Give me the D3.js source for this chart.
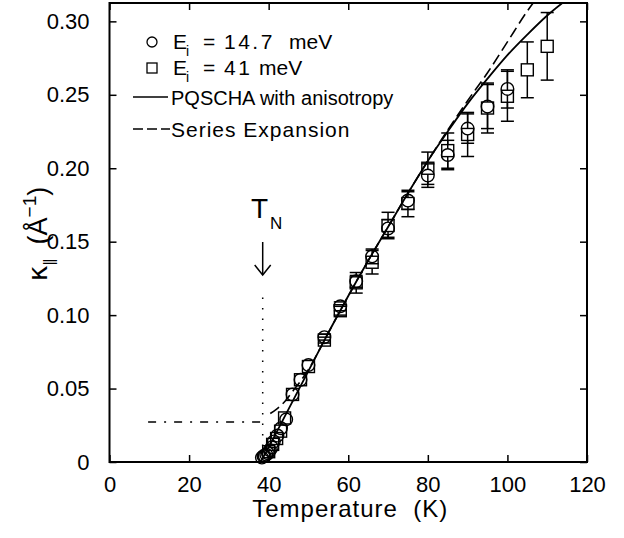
<!DOCTYPE html>
<html>
<head>
<meta charset="utf-8">
<script src="https://cdn.jsdelivr.net/npm/d3@7"></script>
<style>
  body { margin: 0; background: #fff; }
  text { font-family: "Liberation Sans", Arial, sans-serif; fill: #000; }
</style>
</head>
<body>
<script>
// Size
var w = 624;
var h = 538;

// Data: Ei = 14.7 meV (circles)
var tempLow = [38.3, 38.7, 39.0, 39.4, 39.8, 40.3, 40.8, 41.3, 42.2, 43.1, 44.4, 46, 48, 50, 54, 58, 62, 66, 70, 75, 80, 85, 90, 95, 100];
var kappaLow = [0.003, 0.004, 0.004, 0.005, 0.006, 0.008, 0.010, 0.014, 0.018, 0.023, 0.029, 0.046, 0.056, 0.066, 0.085, 0.106, 0.123, 0.140, 0.159, 0.178, 0.195, 0.209, 0.227, 0.242, 0.254];
var errLow = [0, 0, 0, 0, 0, 0, 0, 0, 0, 0, 0, 0, 0, 0, 0.002, 0.003, 0.004, 0.005, 0.006, 0.006, 0.008, 0.010, 0.010, 0.015, 0.013];

// Data: Ei = 41 meV (squares)
var tempHigh = [40.0, 41.0, 42.0, 43.0, 44.0, 46, 48, 50, 54, 58, 62, 66, 70, 75, 80, 85, 90, 95, 100, 105, 110];
var kappaHigh = [0.007, 0.012, 0.016, 0.021, 0.030, 0.046, 0.056, 0.065, 0.083, 0.103, 0.122, 0.136, 0.161, 0.176, 0.200, 0.212, 0.223, 0.241, 0.249, 0.267, 0.283];
var errHigh = [0, 0, 0, 0, 0, 0, 0, 0, 0.002, 0.003, 0.007, 0.008, 0.009, 0.009, 0.011, 0.012, 0.015, 0.017, 0.017, 0.019, 0.023];

// PQSCHA with anisotropy (solid)
var tempPqscha = [38, 40, 45, 50, 55, 60, 65, 70, 75, 80, 85, 90, 95, 100, 105, 110, 115];
var kappaPqscha = [0.000, 0.010, 0.036, 0.062, 0.088, 0.113, 0.137, 0.160, 0.183, 0.205, 0.225, 0.244, 0.261, 0.277, 0.291, 0.304, 0.315];

// Series expansion (dashed)
var tempSeries = [40.4, 42, 44, 46, 48, 50, 55, 60, 65, 70, 75, 80, 85, 90, 95, 100, 105, 108];
var kappaSeries = [0.033, 0.036, 0.041, 0.048, 0.055, 0.063, 0.088, 0.113, 0.137, 0.160, 0.183, 0.205, 0.226, 0.246, 0.265, 0.286, 0.307, 0.318];

// Marker lines: T_N and the dash-dot level
var tNeel = 38.5;
var tNeelTop = 0.112;
var kappaLevel = 0.0273;
var levelStart = 9.7;

// Ticks
var xTicks = [0, 20, 40, 60, 80, 100, 120];
var yTicks = [0, 0.05, 0.10, 0.15, 0.20, 0.25, 0.30];

var x = d3.scaleLinear().domain([0, 120]).range([109.5, 587]);
var y = d3.scaleLinear().domain([0, 0.3125]).range([462, 3]);

var svg = d3.select("body")
            .append("svg")
            .attr("width", w)
            .attr("height", h);

svg.append("defs").append("clipPath")
   .attr("id", "plot")
   .append("rect")
   .attr("x", x(0)).attr("y", y(0.3125))
   .attr("width", x(120) - x(0)).attr("height", y(0) - y(0.3125));

// Axes with inward ticks on all four sides
var tickLen = 7;
svg.append("g").attr("transform", "translate(0," + y(0) + ")")
   .call(d3.axisBottom(x).tickValues(xTicks).tickSizeInner(-tickLen).tickSizeOuter(0).tickPadding(14).tickFormat(d3.format("d")))
   .call(function(g) { g.select(".domain").remove(); })
   .selectAll("text").attr("font-size", "22px").attr("font-family", "Liberation Sans, Arial, sans-serif").attr("fill", "#000");
svg.append("g").attr("transform", "translate(0," + y(0.3125) + ")")
   .call(d3.axisTop(x).tickValues(xTicks).tickSizeInner(-tickLen).tickSizeOuter(0).tickFormat(""))
   .call(function(g) { g.select(".domain").remove(); });
svg.append("g").attr("transform", "translate(" + x(0) + ",0)")
   .call(d3.axisLeft(y).tickValues(yTicks).tickSizeInner(-tickLen).tickSizeOuter(0).tickPadding(20)
           .tickFormat(function(d) { return d === 0 ? "0" : d3.format(".2f")(d); }))
   .call(function(g) { g.select(".domain").remove(); })
   .selectAll("text").attr("font-size", "22px").attr("font-family", "Liberation Sans, Arial, sans-serif").attr("fill", "#000");
svg.append("g").attr("transform", "translate(" + x(120) + ",0)")
   .call(d3.axisRight(y).tickValues(yTicks).tickSizeInner(-tickLen).tickSizeOuter(0).tickFormat(""))
   .call(function(g) { g.select(".domain").remove(); });
svg.selectAll(".tick line").attr("stroke", "#000").attr("stroke-width", 1.5);

svg.append("rect")
   .attr("x", x(0)).attr("y", y(0.3125))
   .attr("width", x(120) - x(0)).attr("height", y(0) - y(0.3125))
   .attr("fill", "none").attr("stroke", "#000").attr("stroke-width", 2);

// Axis titles
svg.append("text")
   .attr("x", (x(0) + x(120)) / 2 + 2).attr("y", 517)
   .attr("text-anchor", "middle").attr("font-size", "24px")
   .attr("letter-spacing", "1px")
   .attr("xml:space", "preserve")
   .text("Temperature  (K)");

var ylab = svg.append("text")
   .attr("transform", "translate(47,234) rotate(-90)")
   .attr("text-anchor", "middle").attr("font-size", "27px")
   .attr("xml:space", "preserve");
ylab.append("tspan").attr("font-family", "DejaVu Sans, sans-serif").text("κ");
ylab.append("tspan").attr("font-size", "15px").attr("dy", 7).attr("letter-spacing", "-1px").text("||");
ylab.append("tspan").attr("dy", -7).text("  (Å");
ylab.append("tspan").attr("font-size", "19px").attr("dy", -11).text("−1");
ylab.append("tspan").attr("dy", 11).text(")");

// Dash-dot level and dotted T_N line
svg.append("line")
   .attr("x1", x(levelStart)).attr("x2", x(tNeel))
   .attr("y1", y(kappaLevel)).attr("y2", y(kappaLevel))
   .attr("stroke", "#000").attr("stroke-width", 1.5)
   .attr("stroke-dasharray", "8,8,2,8");
svg.append("line")
   .attr("x1", x(tNeel)).attr("x2", x(tNeel))
   .attr("y1", y(tNeelTop)).attr("y2", y(0.004))
   .attr("stroke", "#000").attr("stroke-width", 1.5)
   .attr("stroke-dasharray", "1.5,9");

// T_N arrow and label
var ax = x(tNeel);
svg.append("line").attr("x1", ax).attr("x2", ax).attr("y1", 242).attr("y2", 275)
   .attr("stroke", "#000").attr("stroke-width", 1.5);
svg.append("path").attr("d", "M" + (ax - 8) + ",265L" + ax + ",275L" + (ax + 8) + ",265")
   .attr("fill", "none").attr("stroke", "#000").attr("stroke-width", 1.5);
svg.append("text").attr("x", 251).attr("y", 218).attr("font-size", "28px").text("T");
svg.append("text").attr("x", 270).attr("y", 229).attr("font-size", "17px").text("N");

// Error bars (drawn outside the symbol only)
var half = 6;
function errorBars(ts, vs, es) {
  var g = svg.append("g").attr("stroke", "#000").attr("stroke-width", 1.5);
  ts.forEach(function(t, i) {
    if (!es[i]) return;
    var cx = x(t), cy = y(vs[i]), top = y(vs[i] + es[i]), bot = y(vs[i] - es[i]);
    if (cy - top > half) {
      g.append("line").attr("x1", cx).attr("x2", cx).attr("y1", top).attr("y2", cy - half);
    }
    if (bot - cy > half) {
      g.append("line").attr("x1", cx).attr("x2", cx).attr("y1", cy + half).attr("y2", bot);
    }
    g.append("line").attr("x1", cx - 6.5).attr("x2", cx + 6.5).attr("y1", top).attr("y2", top);
    g.append("line").attr("x1", cx - 6.5).attr("x2", cx + 6.5).attr("y1", bot).attr("y2", bot);
  });
}
errorBars(tempHigh, kappaHigh, errHigh);
errorBars(tempLow, kappaLow, errLow);

// Symbols
svg.selectAll("rect.sq")
   .data(d3.range(tempHigh.length))
   .enter()
   .append("rect")
   .attr("class", "sq")
   .attr("x", function(i) { return x(tempHigh[i]) - 6; })
   .attr("y", function(i) { return y(kappaHigh[i]) - 6; })
   .attr("width", 12).attr("height", 12)
   .attr("fill", "none").attr("stroke", "#000").attr("stroke-width", 1.4);

svg.selectAll("circle.ci")
   .data(d3.range(tempLow.length))
   .enter()
   .append("circle")
   .attr("class", "ci")
   .attr("cx", function(i) { return x(tempLow[i]); })
   .attr("cy", function(i) { return y(kappaLow[i]); })
   .attr("r", 6.3)
   .attr("fill", "none").attr("stroke", "#000").attr("stroke-width", 1.4);

// Curves
var line = d3.line()
   .x(function(d) { return x(d[0]); })
   .y(function(d) { return y(d[1]); })
   .curve(d3.curveMonotoneX);

svg.append("path")
   .attr("clip-path", "url(#plot)")
   .attr("d", line(d3.zip(tempPqscha, kappaPqscha)))
   .attr("fill", "none").attr("stroke", "#000").attr("stroke-width", 1.8);

svg.append("path")
   .attr("clip-path", "url(#plot)")
   .attr("d", line(d3.zip(tempSeries, kappaSeries)))
   .attr("fill", "none").attr("stroke", "#000").attr("stroke-width", 1.6)
   .attr("stroke-dasharray", "11,5");

// Legend
svg.append("circle").attr("cx", 152).attr("cy", 42).attr("r", 5)
   .attr("fill", "none").attr("stroke", "#000").attr("stroke-width", 1.3);
svg.append("rect").attr("x", 147).attr("y", 63).attr("width", 10).attr("height", 10)
   .attr("fill", "none").attr("stroke", "#000").attr("stroke-width", 1.3);
svg.append("line").attr("x1", 133).attr("x2", 168).attr("y1", 97).attr("y2", 97)
   .attr("stroke", "#000").attr("stroke-width", 1.5);
svg.append("line").attr("x1", 133).attr("x2", 170).attr("y1", 129).attr("y2", 129)
   .attr("stroke", "#000").attr("stroke-width", 1.5).attr("stroke-dasharray", "10,4");

var legendRows = [
  { y: 49, parts: [["E", 173], ["=", 203], ["14.7", 224], ["meV", 289]] },
  { y: 75, parts: [["E", 173], ["=", 203], ["41", 224], ["meV", 259]] }
];
legendRows.forEach(function(r) {
  r.parts.forEach(function(p) {
    svg.append("text").attr("x", p[1]).attr("y", r.y).attr("font-size", "21px")
       .attr("letter-spacing", /^\d/.test(p[0]) ? "2.5px" : "0px").text(p[0]);
  });
  svg.append("text").attr("x", 186).attr("y", r.y + 7).attr("font-size", "14px").text("i");
});
svg.append("text").attr("x", 171).attr("y", 105).attr("font-size", "20px")
   .text("PQSCHA with anisotropy");
svg.append("text").attr("x", 171).attr("y", 137).attr("font-size", "21px")
   .attr("letter-spacing", "1px").text("Series Expansion");
</script>
</body>
</html>
